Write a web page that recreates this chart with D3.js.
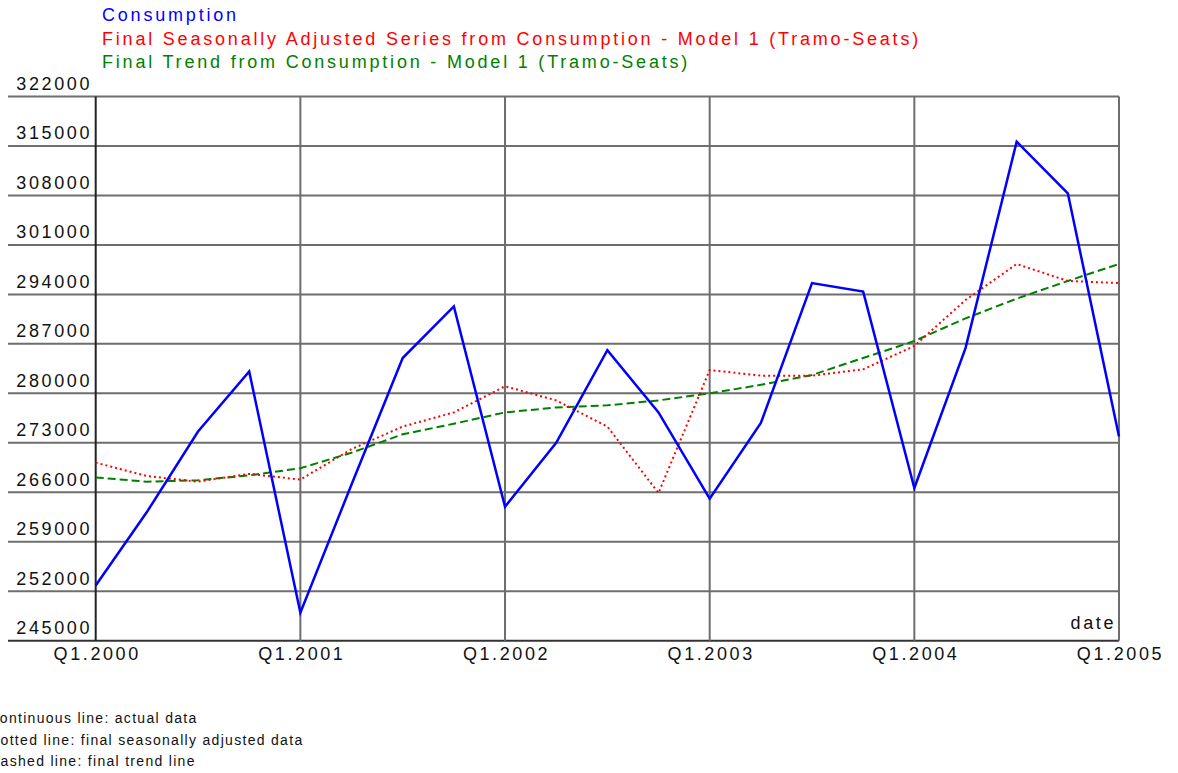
<!DOCTYPE html>
<html>
<head>
<meta charset="utf-8">
<script src="https://cdn.jsdelivr.net/npm/d3@7"></script>
<style>
  html, body { margin: 0; padding: 0; background: #fff; }
  svg { display: block; }
  text { font-family: "Liberation Sans", Arial, sans-serif; }
</style>
</head>
<body>
<svg id="chart" width="1178" height="773"></svg>
<script>
// Quarterly observations, Q1.2000 .. Q1.2005
const quarters = d3.range(0, 21);
const consumption = [252800, 263200, 274600, 283100, 248950, 267100, 285000, 292300,
  263950, 273000, 286100, 277300, 265100, 275800, 295600, 294400,
  266600, 286400, 315600, 308300, 273900];
const seasonallyAdjusted = [270200, 268300, 267500, 268600, 267800, 272100, 275300, 277300,
  281000, 279000, 275300, 265900, 283300, 282500, 282500, 283400,
  286700, 293200, 298300, 295900, 295600];
const trend = [268100, 267500, 267700, 268400, 269400, 271600, 274200, 275700,
  277300, 278000, 278300, 279000, 280000, 281200, 282600, 285000,
  287400, 290600, 293400, 295900, 298300];

const yTicks = [245000, 252000, 259000, 266000, 273000, 280000, 287000, 294000, 301000, 308000, 315000, 322000];
const xTicks = [0, 4, 8, 12, 16, 20];
const xTickLabels = ["Q1.2000", "Q1.2001", "Q1.2002", "Q1.2003", "Q1.2004", "Q1.2005"];

const seriesNames = [
  "Consumption",
  "Final Seasonally Adjusted Series from Consumption - Model 1 (Tramo-Seats)",
  "Final Trend from Consumption - Model 1 (Tramo-Seats)"
];
const notes = [
  "continuous line: actual data",
  "dotted line: final seasonally adjusted data",
  "dashed line: final trend line"
];

const svg = d3.select("#chart");
const plotLeft = 95.7, plotRight = 1119, plotTop = 96.5, plotBottom = 640.7;

const x = d3.scaleLinear().domain([0, 20]).range([plotLeft, plotRight]);
const y = d3.scaleLinear().domain([245000, 322000]).range([plotBottom, plotTop]);

// horizontal grid lines
svg.append("g").selectAll("line").data(yTicks).join("line")
  .attr("x1", 8).attr("x2", plotRight)
  .attr("y1", d => y(d)).attr("y2", d => y(d))
  .attr("stroke", d => d === 245000 ? "#333" : "#6e6e6e")
  .attr("stroke-width", 2);

// vertical grid lines at each year
svg.append("g").selectAll("line").data(xTicks).join("line")
  .attr("x1", d => x(d)).attr("x2", d => x(d))
  .attr("y1", plotTop).attr("y2", plotBottom)
  .attr("stroke", d => d === 0 ? "#222" : "#6e6e6e")
  .attr("stroke-width", 2);

// y tick labels sit just above their grid line
svg.append("g").selectAll("text").data(yTicks).join("text")
  .attr("x", 92).attr("y", d => y(d) - 6.5)
  .attr("text-anchor", "end")
  .attr("font-size", 18).attr("letter-spacing", 2.6)
  .attr("fill", "#111")
  .text(d => d);

// x tick labels
svg.append("g").selectAll("text").data(xTicks).join("text")
  .attr("x", d => x(d) + 1.5).attr("y", 660)
  .attr("text-anchor", "middle")
  .attr("font-size", 18).attr("letter-spacing", 2.6)
  .attr("fill", "#111")
  .text((d, i) => xTickLabels[i]);

svg.append("text")
  .attr("x", 1116).attr("y", 629)
  .attr("text-anchor", "end")
  .attr("font-size", 18).attr("letter-spacing", 2.6)
  .attr("fill", "#111")
  .text("date");

const line = d3.line().x((d, i) => x(quarters[i])).y(d => y(d));

svg.append("path").datum(trend)
  .attr("d", line).attr("fill", "none")
  .attr("stroke", "#008000").attr("stroke-width", 2)
  .attr("stroke-dasharray", "8,4");

svg.append("path").datum(seasonallyAdjusted)
  .attr("d", line).attr("fill", "none")
  .attr("stroke", "#ff0000").attr("stroke-width", 2)
  .attr("stroke-dasharray", "2,3");

svg.append("path").datum(consumption)
  .attr("d", line).attr("fill", "none")
  .attr("stroke", "#0000ff").attr("stroke-width", 2.5)
  .attr("stroke-linejoin", "miter");

// series titles
const titleColors = ["#0000ff", "#ff0000", "#008000"];
svg.append("g").selectAll("text").data(seriesNames).join("text")
  .attr("x", 102).attr("y", (d, i) => 21 + i * 23.5)
  .attr("font-size", 18).attr("letter-spacing", 2.8)
  .attr("fill", (d, i) => titleColors[i])
  .text(d => d);

// line-style notes, starting flush with the page edge
svg.append("g").selectAll("text").data(notes).join("text")
  .attr("x", -8.5).attr("y", (d, i) => 723 + i * 21.7)
  .attr("font-size", 14).attr("letter-spacing", 1.3)
  .attr("fill", "#111")
  .text(d => d);
</script>
</body>
</html>
